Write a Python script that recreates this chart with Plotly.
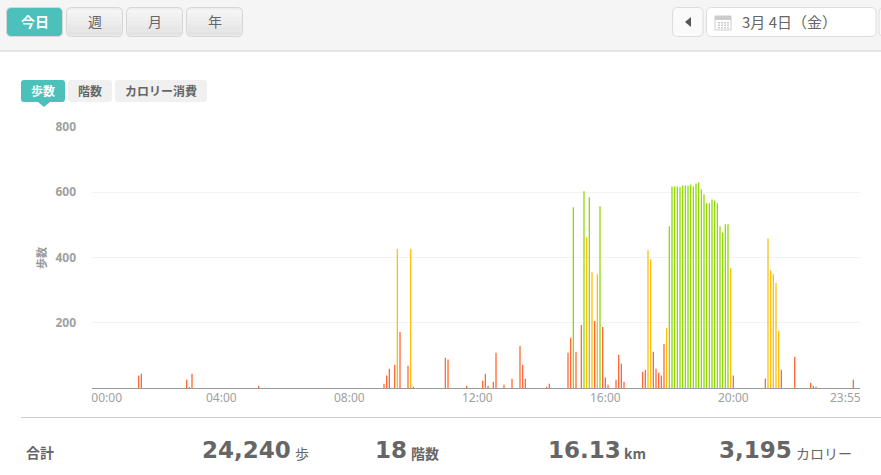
import plotly.graph_objects as go

# 5-minute slots of the day (0 = 00:00, 287 = 23:55)
low_slots = [17, 18, 35, 36, 37, 62, 109, 110, 111, 113, 115, 118, 120, 132, 133, 140, 146, 147, 148, 150, 151,
             154, 157, 160, 161, 162, 170, 171, 178, 179, 181, 183, 188, 191, 192, 193, 196, 197, 198, 199,
             206, 207, 210, 211, 212, 213, 214, 240, 252, 258, 263, 269, 270, 271, 285]
low_steps = [38, 44, 25, 3, 44, 6, 13, 38, 59, 71, 172, 68, 4, 93, 87, 7, 22, 44, 7, 19, 108,
             10, 28, 129, 71, 28, 4, 13, 108, 154, 111, 193, 205, 187, 32, 10, 25, 102, 74, 19,
             50, 56, 111, 59, 47, 38, 135, 38, 29, 56, 95, 16, 7, 4, 25]
mid_slots = [114, 119, 185, 187, 189, 208, 209, 215, 239, 253, 254, 255, 256, 257]
mid_steps = [426, 426, 462, 355, 349, 422, 395, 184, 368, 459, 361, 349, 322, 175]
high_slots = [180, 184, 186, 190, 216, 217, 218, 219, 220, 221, 222, 223, 224, 225, 226, 227, 228, 229, 230, 231,
              232, 233, 234, 235, 236, 237, 238]
high_steps = [554, 603, 585, 557, 496, 618, 618, 618, 615, 621, 621, 621, 624, 618, 627, 630, 609, 594, 566, 566,
              578, 575, 566, 496, 477, 502, 502]

x_tick_labels = ["00:00", "04:00", "08:00", "12:00", "16:00", "20:00", "23:55"]
y_tick_values = [0, 200, 400, 600, 800]
y_tick_labels = ["", "200", "400", "600", "800"]
period_buttons = ["週", "月", "年"]
date_label = "3月 4日（金）"
metric_tabs = ["歩数", "階数", "カロリー消費"]
axis_label = "歩数"
total_label = "合計"
totals = [("24,240", "歩"), ("18", "階数"), ("16.13", "km"), ("3,195", "カロリー")]

W, H = 881, 475
L, R, T, B = 92, 860, 127, 388
TEAL = "#4cc0bb"
JP = "'Noto Sans CJK JP', 'Noto Sans', sans-serif"
NUM = "'Noto Sans', sans-serif"


def px(x):
    return (x - L) / (R - L)


def py(y):
    return (B - y) / (B - T)


shapes = []
annotations = []


def rect(x0, y0, x1, y1, fill, line=None, lw=0):
    shapes.append(dict(type="rect", xref="paper", yref="paper", x0=px(x0), x1=px(x1), y0=py(y0), y1=py(y1),
                       fillcolor=fill, line=dict(color=line or fill, width=lw), layer="below"))


def rrect(x0, y0, x1, y1, r, fill, line=None, lw=0):
    p = (f"M{px(x0 + r)},{py(y0)} L{px(x1 - r)},{py(y0)} Q{px(x1)},{py(y0)} {px(x1)},{py(y0 + r)} "
         f"L{px(x1)},{py(y1 - r)} Q{px(x1)},{py(y1)} {px(x1 - r)},{py(y1)} L{px(x0 + r)},{py(y1)} "
         f"Q{px(x0)},{py(y1)} {px(x0)},{py(y1 - r)} L{px(x0)},{py(y0 + r)} Q{px(x0)},{py(y0)} {px(x0 + r)},{py(y0)} Z")
    shapes.append(dict(type="path", xref="paper", yref="paper", path=p, fillcolor=fill,
                       line=dict(color=line or fill, width=lw), layer="below"))


def poly(points, fill):
    p = "M" + " L".join(f"{px(a)},{py(b)}" for a, b in points) + " Z"
    shapes.append(dict(type="path", xref="paper", yref="paper", path=p, fillcolor=fill,
                       line=dict(width=0), layer="below"))


def text(x, y, s, size, color, anchor="left", family=JP, bold=False, angle=0):
    annotations.append(dict(xref="paper", yref="paper", x=px(x), y=py(y), text=f"<b>{s}</b>" if bold else s,
                            showarrow=False, xanchor=anchor, yanchor="middle", textangle=angle,
                            font=dict(size=size, color=color, family=family), borderpad=0, borderwidth=0))


# top toolbar
rect(0, 0, W, 50.5, "#f5f5f5")
rect(0, 50.5, W, 51.5, "#cfcfcf")

# today button
rrect(6.5, 7.5, 62.5, 36.5, 5, TEAL, "#d8d8d8", 1)
text(34.5, 21.5, "今日", 14, "#ffffff", "center", bold=True)


def gray_button(x0, x1, label):
    rrect(x0, 7.5, x1, 36.5, 5, "#eeeeee", "#d6d6d6", 1)
    steps = 7
    for i in range(steps):
        v = 0xf5 - int(i * (0xf5 - 0xe3) / (steps - 1))
        c = f"#{v:02x}{v:02x}{v:02x}"
        rect(x0 + 1, 10 + i * 3.6, x1 - 1, 10 + (i + 1) * 3.6, c)
    text((x0 + x1) / 2, 21.5, label, 14, "#666666", "center")


for i, lab in enumerate(period_buttons):
    gray_button(66.5 + 60 * i, 122.5 + 60 * i, lab)

# date navigation
rrect(672.5, 7.5, 703, 36.5, 5, "#fafafa", "#dddddd", 1)
poly([(685, 22), (691, 17), (691, 27)], "#555555")
rrect(706.5, 7.5, 876, 36.5, 5, "#ffffff", "#dddddd", 1)
rect(715, 16, 731, 30, "#ffffff", "#cccccc", 1)
rect(715, 16, 731, 20, "#cccccc")
for r_ in range(3):
    for c_ in range(4):
        rect(718 + c_ * 3, 22 + r_ * 2.5, 720 + c_ * 3, 23.5 + r_ * 2.5, "#cccccc")
text(742, 21.5, date_label, 15, "#666666")
rrect(879, 7.5, 900, 36.5, 5, "#fafafa", "#dddddd", 1)

# metric tabs
rrect(21, 80, 65, 102, 3, TEAL)
poly([(38, 102), (50, 102), (44, 107)], TEAL)
rrect(68, 80, 112, 102, 3, "#f0f0f0")
rrect(115, 80, 207, 102, 3, "#f0f0f0")
text(43, 90.5, metric_tabs[0], 12, "#ffffff", "center", bold=True)
text(90, 90.5, metric_tabs[1], 12, "#666666", "center", bold=True)
text(161, 90.5, metric_tabs[2], 12, "#666666", "center", bold=True)

# axis label
text(41, 258, axis_label, 11, "#999999", "center", bold=True, angle=-90)

# footer
rect(21, 417, W, 418, "#cfcfcf")
text(26, 452, total_label, 14, "#666666", bold=True)
tx = [(202, 295), (375, 411), (547.5, 624), (719, 796)]
for (val, unit), (xv, xu) in zip(totals, tx):
    text(xv, 450, val, 23, "#666666", family="'DejaVu Sans', sans-serif", bold=True)
    text(xu, 452.5, unit, 14, "#666666", bold=unit != "カロリー" and unit != "歩")

fig = go.Figure()
for name, xs, ys, colour in [("low", low_slots, low_steps, "#ff6633"),
                             ("mid", mid_slots, mid_steps, "#ffbf00"),
                             ("high", high_slots, high_steps, "#8fd800")]:
    fig.add_bar(x=xs, y=ys, name=name, width=0.48, marker=dict(color=colour, line=dict(width=0)))

fig.update_layout(
    width=W, height=H, autosize=False, showlegend=False, barmode="overlay",
    margin=dict(l=L, r=W - R, t=T, b=H - B, pad=0),
    paper_bgcolor="#ffffff", plot_bgcolor="#ffffff",
    shapes=shapes, annotations=annotations,
    xaxis=dict(range=[-0.5, 287.5], tickmode="array", tickvals=[5, 48, 96, 144, 192, 240, 282],
               ticktext=x_tick_labels, showgrid=False, zeroline=False, showline=True, linecolor="#999999",
               linewidth=1, ticks="", ticklabelstandoff=-1,
               tickfont=dict(size=12, color="#a0a0a0", family=NUM), automargin=False),
    yaxis=dict(range=[0, 800], tickmode="array", tickvals=y_tick_values, ticktext=[f"<b>{t}</b>" for t in y_tick_labels],
               showgrid=True, gridcolor="#f2f2f2", gridwidth=1, zeroline=False, showline=False, ticks="",
               ticklabelstandoff=15, tickfont=dict(size=12, color="#a0a0a0", family=NUM), automargin=False),
)
fig.write_html("out.html", config={"displayModeBar": False, "staticPlot": True},
               post_script="document.body.style.margin='0';document.body.style.overflow='hidden';")
